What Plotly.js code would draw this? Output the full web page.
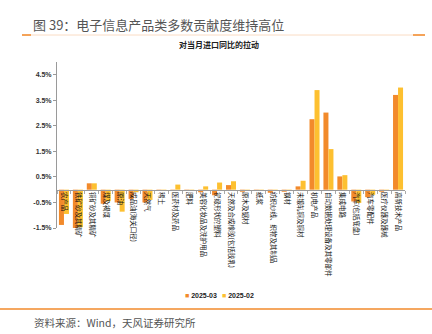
<!DOCTYPE html>
<html>
<head>
<meta charset="utf-8">
<script src="https://cdn.plot.ly/plotly-3.0.1.min.js"></script>
<style>html,body{margin:0;padding:0;background:#fff;}#chart{width:432px;height:334px;}</style>
</head>
<body>
<div id="chart"></div>
<script>
var categories = ["农产品","铁矿砂及其精矿","铜矿砂及其精矿","煤及褐煤","原油","成品油(海关口径)","天然气","稀土","医药材及药品","肥料","美容化妆品及洗护用品","初级形状的塑料","天然及合成橡胶(包括胶乳)","原木及锯材","纸浆","纺织纱线、织物及其制品","钢材","未锻轧铜及铜材","机电产品","自动数据处理设备及其零部件","集成电路","汽车(包括底盘)","汽车零配件","医疗仪器及器械","高新技术产品"];
var seriesNames = ["2025-03","2025-02"];
var mar2025 = [-1.38,-1.5,0.25,-0.55,-0.5,-0.36,-0.5,-0.02,-0.03,-0.05,-0.1,-0.22,0.18,-0.08,-0.03,-0.12,-0.08,0.13,2.76,3.02,0.52,-0.46,-0.29,-0.08,3.71];
var feb2025 = [-0.95,-1.47,0.25,-0.45,-0.86,-0.1,-0.4,-0.02,0.2,-0.03,0.13,0.28,0.33,-0.02,-0.03,-0.03,-0.03,0.35,3.9,1.59,0.57,-0.52,-0.2,-0.02,4.0];
var yTicks = [-1.5,-0.5,0.5,1.5,2.5,3.5,4.5];
var yTickText = ["-1.5%","-0.5%","0.5%","1.5%","2.5%","3.5%","4.5%"];
var colors = ['#F28A2B','#FDC030'];

var W=432,H=334,L=57,R=27,T=62,B=106;
var pw=W-L-R, ph=H-T-B;
function px(x){return (x-L)/pw;}
function py(y){return (H-B-y)/ph;}
var yMin=-1.5,yMax=5.0;

function legendName(i){
  return '<span style="color:'+colors[i]+'">■</span> '+seriesNames[i];
}
var traces=[
 {type:'bar',name:legendName(0),x:categories,y:mar2025,marker:{color:colors[0]},showlegend:false,legendgroup:'a'},
 {type:'bar',name:legendName(1),x:categories,y:feb2025,marker:{color:colors[1]},showlegend:false,legendgroup:'b'},
 {type:'scatter',mode:'markers',name:legendName(0),x:[null],y:[null],legendgroup:'a',legend:'legend',marker:{symbol:'square',size:1,color:'rgba(0,0,0,0)'}},
 {type:'scatter',mode:'markers',name:legendName(1),x:[null],y:[null],legendgroup:'b',legend:'legend2',marker:{symbol:'square',size:1,color:'rgba(0,0,0,0)'}}
];
var cjk='"Noto Sans CJK SC", "Noto Sans", sans-serif';
var legFont={family:'"Liberation Sans", Arial, sans-serif',size:7,color:'#222',weight:'bold'};
var layout={
 width:W,height:H,margin:{l:L,r:R,t:T,b:B,pad:0},
 paper_bgcolor:'#fff',plot_bgcolor:'#fff',
 barmode:'group',bargap:0.28,bargroupgap:0,
 showlegend:true,
 legend:{orientation:'h',x:px(145),xanchor:'left',y:py(295),yanchor:'middle',
   font:legFont,itemwidth:30,tracegroupgap:0,bgcolor:'rgba(0,0,0,0)'},
 legend2:{orientation:'h',x:px(182),xanchor:'left',y:py(295),yanchor:'middle',
   font:legFont,itemwidth:30,tracegroupgap:0,bgcolor:'rgba(0,0,0,0)'},
 xaxis:{type:'category',anchor:'free',position:(0-yMin)/(yMax-yMin),
   showline:true,linecolor:'#9a9a9a',linewidth:1,
   ticks:'outside',tickson:'boundaries',ticklen:3,tickcolor:'#aaa',
   tickangle:90,tickfont:{family:cjk,size:6.5,color:'#111'},
   showgrid:false,zeroline:false,automargin:false,fixedrange:true},
 yaxis:{range:[yMin,yMax],tickvals:yTicks,ticktext:yTickText,
   showline:true,linecolor:'#9a9a9a',linewidth:1,
   ticks:'outside',ticklen:3,tickcolor:'#9a9a9a',
   tickfont:{family:'"Liberation Sans", Arial, sans-serif',size:7,color:'#333',weight:'bold'},
   showgrid:false,zeroline:false,automargin:false,fixedrange:true},
 annotations:[
  {xref:'paper',yref:'paper',x:px(31),y:py(25),xanchor:'left',yanchor:'middle',showarrow:false,
   text:'图 39：电子信息产品类多数贡献度维持高位',font:{family:cjk,size:13,color:'#555'}},
  {xref:'paper',yref:'paper',x:px(219),y:py(44),xanchor:'center',yanchor:'middle',showarrow:false,
   text:'对当月进口同比的拉动',font:{family:cjk,size:8,color:'#222',weight:'bold'}},
  {xref:'paper',yref:'paper',x:px(32),y:py(322),xanchor:'left',yanchor:'middle',showarrow:false,
   text:'资料来源：Wind，天风证券研究所',font:{family:cjk,size:10.5,color:'#555'}}
 ],
 shapes:[
  {type:'line',xref:'paper',yref:'paper',x0:px(22),x1:px(425),y0:py(35),y1:py(35),line:{color:'#FADCC4',width:1}},
  {type:'line',xref:'paper',yref:'paper',x0:px(22),x1:px(31),y0:py(35),y1:py(35),line:{color:'#F28A2B',width:1.5}},
  {type:'line',xref:'paper',yref:'paper',x0:px(413),x1:px(425),y0:py(35),y1:py(35),line:{color:'#F28A2B',width:1.5}},
  {type:'line',xref:'paper',yref:'paper',x0:px(0),x1:px(432),y0:py(309),y1:py(309),line:{color:'#F28A2B',width:1.5}}
 ]
};
Plotly.newPlot('chart',traces,layout,{staticPlot:true,displayModeBar:false});
</script>
</body>
</html>
